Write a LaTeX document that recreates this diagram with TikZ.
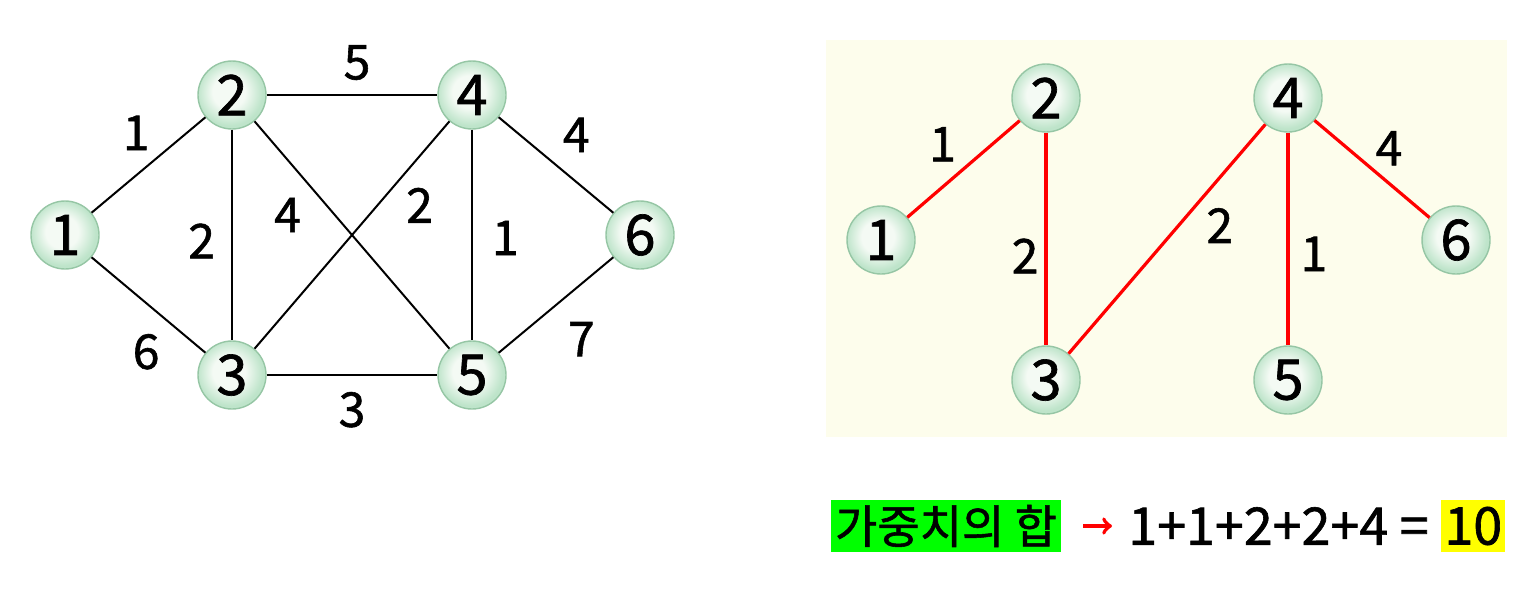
\documentclass[tikz,border=0pt]{standalone}
\usepackage{fontspec}
\setmainfont{Noto Sans CJK KR}
\newfontfamily\medfont{Noto Sans CJK KR}[FakeBold=1.2]
\usetikzlibrary{positioning}

\definecolor{nodeouter}{RGB}{190,228,202}
\definecolor{nodeinner}{RGB}{244,250,244}
\definecolor{nodeline}{RGB}{150,198,165}
\definecolor{panel}{RGB}{253,253,236}
\definecolor{sumgreen}{RGB}{0,255,0}
\definecolor{sumyellow}{RGB}{255,255,0}

\pgfdeclareradialshading{glass}{\pgfpoint{-3bp}{3bp}}{%
  color(0bp)=(nodeinner); color(12bp)=(nodeinner); color(24bp)=(nodeouter);
  color(28bp)=(nodeouter); color(50bp)=(nodeouter)}

\tikzset{
  vtx/.style={circle, minimum size=34pt, inner sep=0pt, draw=nodeline, line width=0.7pt,
    shading=glass, font=\fontsize{28}{32}\medfont},
  wt/.style={font=\fontsize{24}{28}\medfont, inner sep=3pt},
  edge/.style={line width=1pt},
  tree/.style={red, line width=1.6pt}
}

\begin{document}
\begin{tikzpicture}[x=0.5pt, y=-0.5pt]
  \useasboundingbox (0,0) rectangle (1540,590);

  % ---- whole graph ----
  \node[vtx] (a1) at (65,235) {1};
  \node[vtx] (a2) at (232,95) {2};
  \node[vtx] (a3) at (232,375) {3};
  \node[vtx] (a4) at (472,95) {4};
  \node[vtx] (a5) at (472,375) {5};
  \node[vtx] (a6) at (640,235) {6};

  \draw[edge] (a1) -- node[wt, above left, xshift=4pt, yshift=4pt] (w12) {1} (a2);
  \draw[edge] (a2) -- node[wt, above, xshift=2.5pt, yshift=4pt] (w24) {5} (a4);
  \draw[edge] (a4) -- node[wt, above right, yshift=3pt] (w46) {4} (a6);
  \draw[edge] (a2) -- node[wt, left, xshift=-5pt, yshift=-3pt] (w23) {2} (a3);
  \draw[edge] (a2) -- node[wt, pos=0.35, below left, xshift=-7.5pt, yshift=5pt] (w25) {4} (a5);
  \draw[edge] (a4) -- node[wt, pos=0.35, below right, xshift=9pt, yshift=10pt] (w43) {2} (a3);
  \draw[edge] (a4) -- node[wt, right, xshift=6.5pt, yshift=-1.5pt] (w45) {1} (a5);
  \draw[edge] (a1) -- node[wt, below left, xshift=9pt, yshift=-11pt] (w13) {6} (a3);
  \draw[edge] (a3) -- node[wt, below, yshift=-5pt] (w35) {3} (a5);
  \draw[edge] (a5) -- node[wt, below right, xshift=2.5pt, yshift=-5pt] (w56) {7} (a6);

  % ---- spanning tree ----
  \fill[panel] (826,40) rectangle (1507,437);

  \node[vtx] (b1) at (881,240) {1};
  \node[vtx] (b2) at (1046,98) {2};
  \node[vtx] (b3) at (1046,380) {3};
  \node[vtx] (b4) at (1288,98) {4};
  \node[vtx] (b5) at (1288,380) {5};
  \node[vtx] (b6) at (1456,240) {6};

  \draw[tree] (b1) -- node[wt, text=black, above left] (t12) {1} (b2);
  \draw[tree] (b2) -- node[wt, text=black, pos=0.58, left] (t23) {2} (b3);
  \draw[tree] (b4) -- node[wt, text=black, pos=0.45, below right, xshift=11pt, yshift=13.5pt] (t43) {2} (b3);
  \draw[tree] (b4) -- node[wt, text=black, pos=0.57, right, xshift=2.5pt] (t45) {1} (b5);
  \draw[tree] (b4) -- node[wt, text=black, pos=0.5, above right, inner sep=1pt] (t46) {4} (b6);

  % ---- total ----
  \node[fill=sumgreen, inner sep=2pt, minimum height=26pt, font=\fontsize{23}{26}\medfont] (sum) at (946,526) {가중치의 합};
  \node[font=\fontsize{26}{30}\medfont, anchor=west, inner sep=0pt] (eq) at (1128,526) {1+1+2+2+4 =};
  \node[fill=sumyellow, font=\fontsize{26}{30}\medfont, right=6pt of eq, inner sep=1.5pt, minimum height=26pt] (total) {10};
  \draw[red, line width=2pt, ->] ([xshift=11pt]sum.east) -- ([xshift=-8pt]eq.west);
\end{tikzpicture}
\end{document}
